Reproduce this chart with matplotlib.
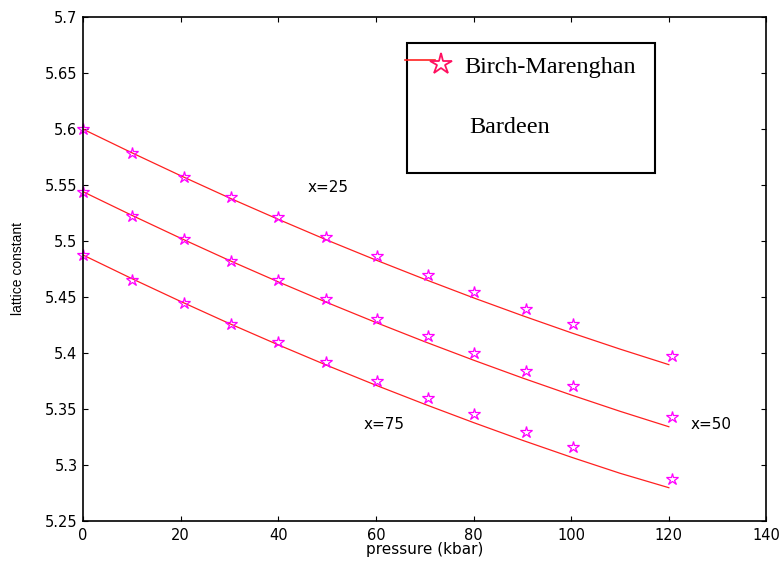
import matplotlib
matplotlib.use('Agg')
import matplotlib.pyplot as plt
from matplotlib.patches import Rectangle
from matplotlib.lines import Line2D

# pressure points (kbar) of the computed values (stars)
pressure = [0, 10, 20.6, 30.4, 40, 49.8, 60.3, 70.6, 80, 90.7, 100.4, 120.7]
a_x25 = [5.6001, 5.5784, 5.5575, 5.5391, 5.5212, 5.5033, 5.4866, 5.4696, 5.4547, 5.4392, 5.4258, 5.3972]
a_x50 = [5.5441, 5.5224, 5.5015, 5.4824, 5.4652, 5.4482, 5.4303, 5.4151, 5.3996, 5.3841, 5.3704, 5.3424]
a_x75 = [5.4875, 5.4652, 5.4449, 5.4261, 5.4100, 5.3921, 5.3751, 5.3594, 5.3451, 5.3293, 5.3156, 5.2875]

# Birch-Marenghan curves
p_fit = [0, 10, 20, 30, 40, 50, 60, 70, 80, 90, 100, 110, 120]
fit_x25 = [5.6000, 5.5789, 5.5584, 5.5385, 5.5194, 5.5008, 5.4830, 5.4658, 5.4492, 5.4333, 5.4180, 5.4034, 5.3895]
fit_x50 = [5.5441, 5.5230, 5.5025, 5.4826, 5.4635, 5.4450, 5.4272, 5.4100, 5.3935, 5.3776, 5.3624, 5.3478, 5.3340]
fit_x75 = [5.4875, 5.4664, 5.4460, 5.4262, 5.4072, 5.3888, 5.3711, 5.3541, 5.3377, 5.3219, 5.3068, 5.2924, 5.2795]

labels = ['x=25', 'x=50', 'x=75']
label_pos = [(50.1, 5.5482), (128.7, 5.3357), (61.6, 5.3357)]

plt.rcParams['font.family'] = ['DejaVu Sans']

fig = plt.figure(figsize=(7.81, 5.65), dpi=100)
ax = fig.add_axes([0.1063, 0.0784, 0.8751, 0.8910])

for fit in [fit_x25, fit_x50, fit_x75]:
    ax.plot(p_fit, fit, color='#ff2020', lw=0.9)
for a in [a_x25, a_x50, a_x75]:
    ax.plot(pressure, a, ls='none', marker='*', ms=9, mfc='none',
            mec='#ff00ff', mew=0.9, clip_on=False)

for lab, (px, py) in zip(labels, label_pos):
    ax.text(px, py, lab, fontsize=11, ha='center', va='center')

ax.set_xlim(0, 140)
ax.set_ylim(5.25, 5.7)
ax.set_xticks(range(0, 141, 20))
ax.set_yticks([5.25, 5.3, 5.35, 5.4, 5.45, 5.5, 5.55, 5.6, 5.65, 5.7])
ax.set_yticklabels(['5.25', '5.3', '5.35', '5.4', '5.45', '5.5', '5.55', '5.6', '5.65', '5.7'])
ax.tick_params(direction='in', top=True, right=True, length=3.5, width=0.8,
               labelsize=10.5, pad=4)
ax.tick_params(axis='x', pad=5)
for s in ax.spines.values():
    s.set_linewidth(1.2)
ax.set_xlabel('pressure (kbar)', fontsize=11)
ax.set_ylabel('lattice constant', fontsize=10, family='Liberation Sans')
ax.xaxis.set_label_coords(0.5, -0.043)
ax.yaxis.set_label_coords(-0.085, 0.5)

# legend box
ax.add_patch(Rectangle((0.4737, 0.6906), 0.3626, 0.2584, transform=ax.transAxes,
                       fill=False, ec='black', lw=1.5, zorder=5))
ax.add_line(Line2D([0.4708, 0.5155], [0.9145, 0.9145], transform=ax.transAxes,
                   color='#ff2020', lw=1.2, zorder=6))
ax.plot([0.5243], [0.9066], transform=ax.transAxes, marker='*', ms=16, mfc='none',
        mec='#ff1060', mew=1.3, zorder=6)
ax.text(0.5585, 0.9006, 'Birch-Marenghan', transform=ax.transAxes, fontsize=17.4,
        family='Liberation Serif', va='center', ha='left')
ax.text(0.5658, 0.7814, 'Bardeen', transform=ax.transAxes, fontsize=17.4,
        family='Liberation Serif', va='center', ha='left')

fig.savefig('out.png', dpi=100)
